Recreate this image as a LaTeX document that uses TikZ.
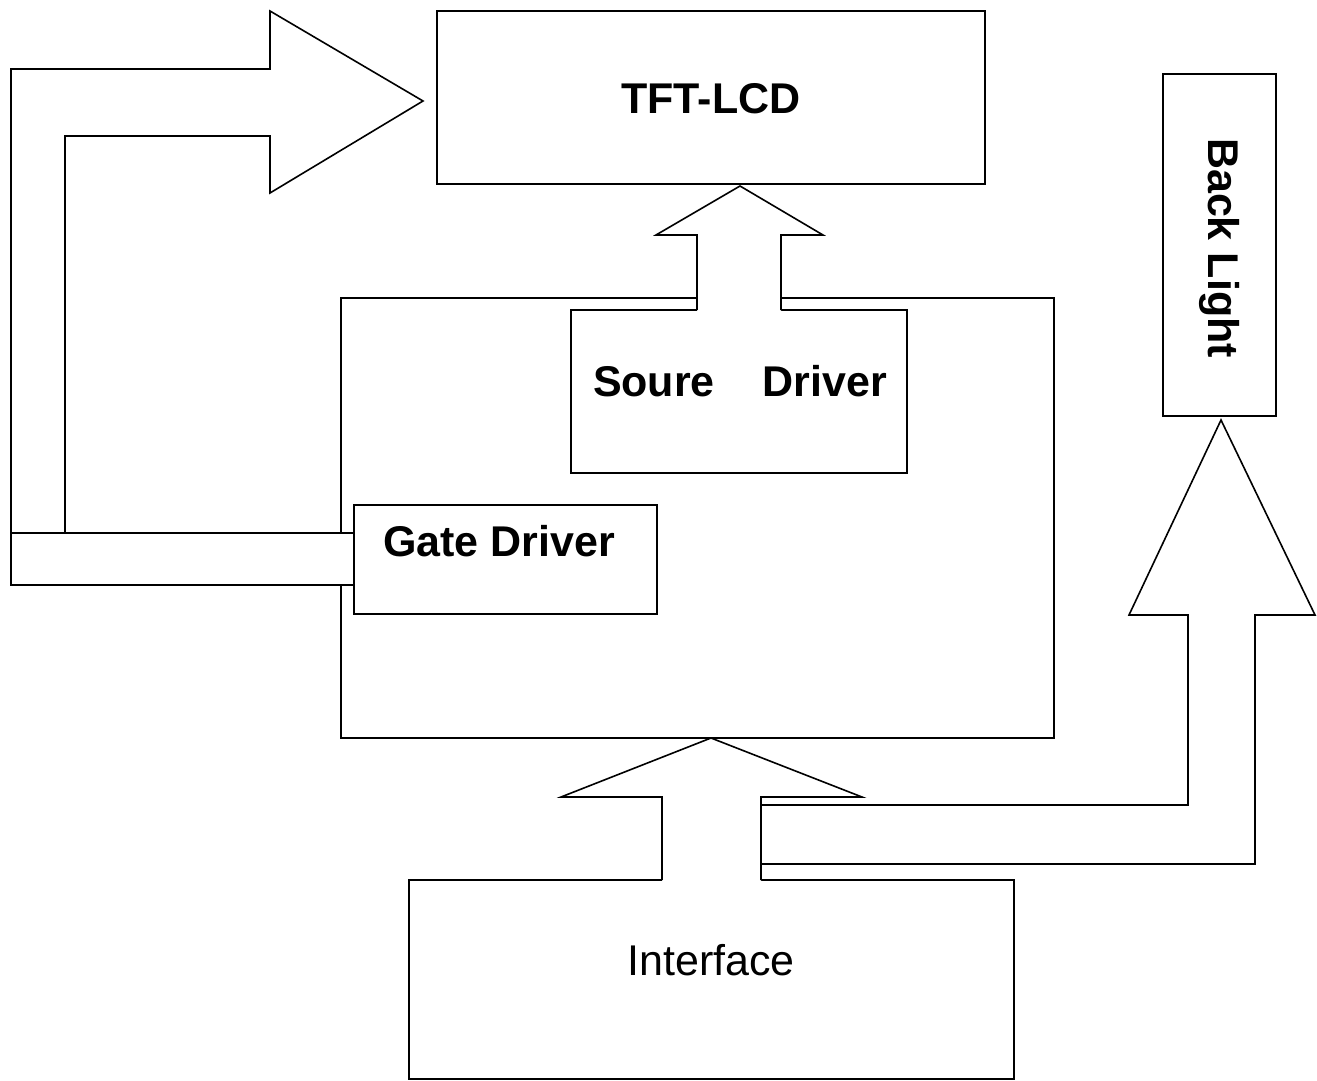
\documentclass[tikz,border=0pt]{standalone}
\usepackage{fontspec}
\setmainfont{Liberation Sans}
\begin{document}
\begin{tikzpicture}[x=1pt,y=-1pt,
  ln/.style={line width=1.6pt, line join=miter},
  box/.style={ln, draw, fill=white, rectangle, inner sep=0pt, outer sep=0pt, anchor=north west},
  lbl/.style={font=\fontsize{43}{50}\selectfont\bfseries, inner sep=0pt},
  lblr/.style={font=\fontsize{43}{50}\selectfont, inner sep=0pt}]
\useasboundingbox (0,0) rectangle (1317,1081);

% Interface box
\node[box, minimum width=605pt, minimum height=199pt] (iface) at (409,880) {};
\node[lblr] (ifacet) at (711,960) {Interface};

% arrow Interface -> main panel
\fill[white] (662,883) -- (662,797) -- (561,797) -- (711,738) -- (862,797) -- (761,797) -- (761,883) -- cycle;
\draw[ln] (662,880) -- (662,797) -- (561,797) -- (711,738) -- (862,797) -- (761,797) -- (761,880);

% arrow Interface -> Back Light
\draw[ln] (761,805) -- (1188,805) -- (1188,615) -- (1129,615) -- (1221,420) -- (1315,615) -- (1255,615) -- (1255,864) -- (761,864);

% main panel
\node[box, fill=none, minimum width=713pt, minimum height=440pt] (main) at (341,298) {};

% Source driver
\node[box, minimum width=336pt, minimum height=163pt] (src) at (571,310) {};
\node[lbl] (srct) at (740,381) {Soure\ \ \ \ Driver};

% arrow Source driver -> TFT-LCD
\fill[white] (697,312) -- (697,235) -- (656,235) -- (740,186) -- (823,235) -- (781,235) -- (781,312) -- cycle;
\draw[ln] (697,310) -- (697,235) -- (656,235) -- (740,186) -- (823,235) -- (781,235) -- (781,310);

% TFT-LCD
\node[box, minimum width=548pt, minimum height=173pt] (tft) at (437,11) {};
\node[lbl] (tftt) at (711,99) {TFT-LCD};

% arrow Gate driver -> TFT-LCD
\draw[ln] (65,533) -- (65,136) -- (270,136) -- (270,193) -- (423,101) -- (270,11) -- (270,69) -- (11,69) -- (11,533);
\node[box, minimum width=343pt, minimum height=52pt] (bar) at (11,533) {};

% Gate driver
\node[box, minimum width=303pt, minimum height=109pt] (gate) at (354,505) {};
\node[lbl] (gatet) at (499,541) {Gate Driver};

% Back Light
\node[box, minimum width=113pt, minimum height=342pt] (back) at (1163,74) {};
\node[lbl, rotate=-90, anchor=base] (backt) at (1208,248) {Back Light};
\end{tikzpicture}
\end{document}
